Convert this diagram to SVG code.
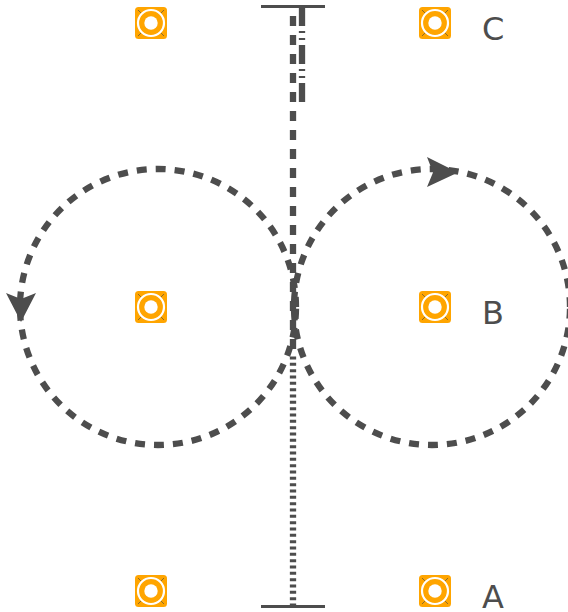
<svg xmlns="http://www.w3.org/2000/svg" width="568" height="612" viewBox="0 0 568 612">
<style>
.c{fill:none;stroke:#4d4d4d;stroke-width:6.300}
.b{fill:none;stroke:#4d4d4d;stroke-width:3}
.h{fill:#4d4d4d}
.t{font-family:"DejaVu Sans",sans-serif;font-size:32px;fill:#4d4d4d}
.bg{fill:#ffa500}
.r{fill:none;stroke:#fff}
.k{stroke:#8a6a2a;stroke-width:1;fill:none}
</style>
<defs>
<g id="icon">
<rect x="-16" y="-16" width="32" height="32" rx="3.5" class="bg"/>
<path class="k" d="M-13-13l3.500 3.500M13-13l-3.500 3.500M-13 13l3.500-3.500M13 13l-3.500-3.500"/>
<circle r="13" class="r" stroke-width="2.200"/>
<circle r="6.700" fill="#fff"/>
</g>
</defs>
<g id="connectors">
<path class="b" d="M261 6.500H325"/>
<path class="b" d="M261 606.500H325"/>
<path class="c" d="M302 7V102" stroke-dasharray="19 5 2 5 2 5"/>
<path class="c" d="M293 16V350" stroke-dasharray="10 9"/>
<path class="c" d="M293 356.500V606" stroke-dasharray="3 3.333"/>
<path class="c" d="M296 307A138 138 0 1 0 20 307A138 138 0 1 0 296 307Z" stroke-dasharray="10 9"/>
<path class="c" d="M570 307A138 138 0 1 0 294 307A138 138 0 1 0 570 307Z" stroke-dasharray="10 9"/>
<path class="h" d="M458 172.500L427 157L433 172.500L427 187Z"/>
<path class="h" d="M21 322L6 293L21 299L36 293Z"/>
</g>
<g id="node-tl"><use href="#icon" x="151" y="23"/></g>
<g id="node-tr"><use href="#icon" x="435" y="23"/><text class="t" x="482" y="40">C</text></g>
<g id="node-ml"><use href="#icon" x="151" y="307"/></g>
<g id="node-mr"><use href="#icon" x="435" y="307"/><text class="t" x="482" y="324">B</text></g>
<g id="node-bl"><use href="#icon" x="151" y="591"/></g>
<g id="node-br"><use href="#icon" x="435" y="591"/><text class="t" x="482" y="608">A</text></g>
</svg>
